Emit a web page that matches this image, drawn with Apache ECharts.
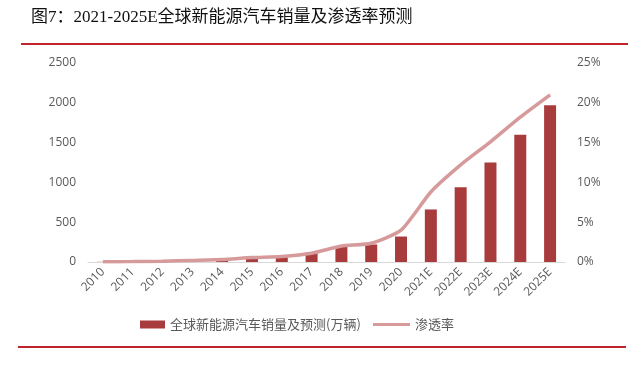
<!DOCTYPE html>
<html><head><meta charset="utf-8">
<script src="https://cdn.jsdelivr.net/npm/echarts@6/dist/echarts.min.js"></script>
<style>html,body{margin:0;padding:0;background:#fff}#c{width:640px;height:383px}</style>
</head><body><div id="c"></div>
<script>
var categories = ['2010','2011','2012','2013','2014','2015','2016','2017','2018','2019','2020','2021E','2022E','2023E','2024E','2025E'];
var sales = [2, 5, 12, 20, 32, 55, 75, 120, 200, 220, 320, 660, 940, 1250, 1600, 1970];
var penetration = [0.02, 0.05, 0.1, 0.2, 0.3, 0.55, 0.7, 1.1, 2.0, 2.35, 4.0, 8.8, 12.2, 15.1, 18.2, 21.0];
var leftTicks = [0, 500, 1000, 1500, 2000, 2500];
var rightTicks = [0, 5, 10, 15, 20, 25];
var titleText = '图7：2021-2025E全球新能源汽车销量及渗透率预测';
var barName = '全球新能源汽车销量及预测(万辆)';
var lineName = '渗透率';

var chart = echarts.init(document.getElementById('c'));
chart.setOption({
  backgroundColor: '#fff',
  animation: false,
  graphic: [
    {type:'text', left: 31, top: 9, style:{text: titleText, fontSize: 17, fontFamily: '"Liberation Serif","Noto Sans CJK SC"', fill:'#111'}},
    {type:'rect', shape:{x:21, y:43, width:607, height:2}, style:{fill:'#c0242a'}},
    {type:'rect', shape:{x:18, y:346, width:608, height:2}, style:{fill:'#c0242a'}}
  ],
  grid: {left: 88, right: 75, top: 63, bottom: 121},
  legend: [
    {left: 135, top: 313, itemWidth: 25, itemHeight: 8, itemGap: 5,
     textStyle: {fontSize: 13, color: '#595959', fontFamily: '"Noto Sans CJK SC"'},
     data: [{name: barName, icon: 'rect'}]},
    {left: 368, top: 313, itemWidth: 37, itemHeight: 3, itemGap: 5,
     textStyle: {fontSize: 13, color: '#595959', fontFamily: '"Noto Sans CJK SC"'},
     data: [{name: lineName, icon: 'rect'}]}
  ],
  xAxis: {
    type: 'category', data: categories,
    axisLine: {lineStyle: {color: '#d9d9d9'}},
    axisTick: {show: false},
    axisLabel: {rotate: 45, fontSize: 12, color: '#595959', margin: 8, interval: 0, fontFamily: '"Open Sans"'}
  },
  yAxis: [
    {type: 'value', min: 0, max: 2500, interval: 500,
     axisLine: {show: false}, axisTick: {show: false}, splitLine: {show: false},
     axisLabel: {fontSize: 12, color: '#595959', margin: 12, fontFamily: '"Open Sans"', formatter: function(v){return String(v);}}},
    {type: 'value', min: 0, max: 25, interval: 5,
     axisLine: {show: false}, axisTick: {show: false}, splitLine: {show: false},
     axisLabel: {fontSize: 12, color: '#595959', margin: 12, fontFamily: '"Open Sans"', formatter: '{value}%'}}
  ],
  series: [
    {name: barName, type: 'bar', data: sales, barWidth: 12, itemStyle: {color: '#a83b3c'}},
    {name: lineName, type: 'line', yAxisIndex: 1, data: penetration, smooth: 0.2, symbol: 'none',
     lineStyle: {color: '#d79a9a', width: 3.5}, itemStyle: {color: '#d79a9a'}}
  ]
});
</script></body></html>
